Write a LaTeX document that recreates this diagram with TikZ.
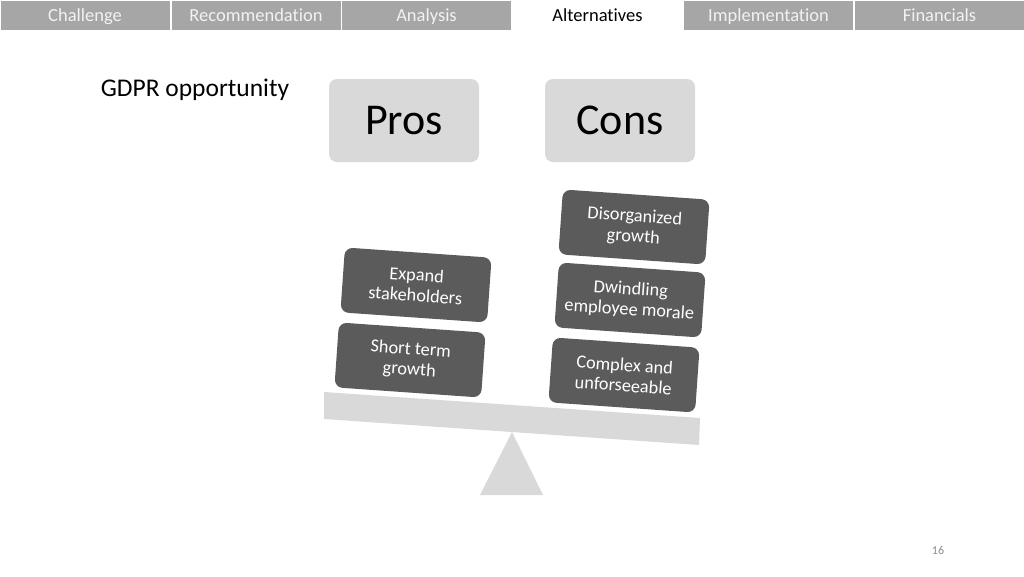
\documentclass[tikz,border=0pt]{standalone}
\usepackage{fontspec}
\setmainfont{Carlito}[Ligatures=NoCommon]
\usepackage{tikz}

\definecolor{tabgray}{HTML}{A6A6A6}
\definecolor{tabtext}{HTML}{F2F2F2}
\definecolor{lightgray}{HTML}{D9D9D9}
\definecolor{darkgray}{HTML}{5B5B5B}
\definecolor{numgray}{HTML}{8C8C8C}

\begin{document}
\begin{tikzpicture}[x=1pt, y=-1pt,
    tab/.style={fill=tabgray, text=tabtext, minimum width=169pt, minimum height=29pt,
                inner sep=0pt, text height=15pt, text depth=2pt,
                font=\fontsize{18.5}{20}\selectfont},
    activetab/.style={tab, fill=white, text=black},
    head/.style={fill=lightgray, rounded corners=8pt, minimum width=150pt, minimum height=83pt,
                 font=\fontsize{44}{48}\selectfont},
    item/.style={fill=darkgray, text=white, rounded corners=8pt, rotate=-4, align=center,
                 minimum width=147pt, minimum height=65pt, inner sep=2pt,
                 font=\fontsize{18.3}{20.5}\selectfont}]
    \useasboundingbox (0,0) rectangle (1024,576);
    \fill[white] (0,0) rectangle (1024,576);

    % Tabs
    \node[tab] (challenge) at (85,15) {Challenge};
    \node[tab] (recommendation) at (256,15) {Recommendation};
    \node[tab] (analysis) at (426.5,15) {Analysis};
    \node[activetab] (alternatives) at (597.5,15) {Alternatives};
    \node[tab] (implementation) at (768.5,15) {Implementation};
    \node[tab] (financials) at (939.5,15) {Financials};

    % Title and headers
    \node[font=\fontsize{25.5}{28}\selectfont] (title) at (195,90) {GDPR opportunity};
    \node[head] (pros) at (404,120.5) {Pros};
    \node[head] (cons) at (620,120.5) {Cons};

    % Balance
    \fill[lightgray] (324,392) -- (700,418) -- (699,445) -- (324,419) -- cycle;
    \fill[lightgray] (512,432) -- (543,495) -- (480,495) -- cycle;

    % Pros items
    \node[item] (expand) at (416,285) {Expand\\stakeholders};
    \node[item] (short) at (410,360) {Short term\\growth};

    % Cons items
    \node[item] (disorganized) at (634,227) {Disorganized\\growth};
    \node[item] (dwindling) at (630,300) {Dwindling\\employee morale};
    \node[item] (complex) at (624,375) {Complex and\\unforseeable};

    % Page number
    \node[text=numgray, font=\fontsize{12}{14}\selectfont] (page) at (938,550) {16};

\end{tikzpicture}
\end{document}
